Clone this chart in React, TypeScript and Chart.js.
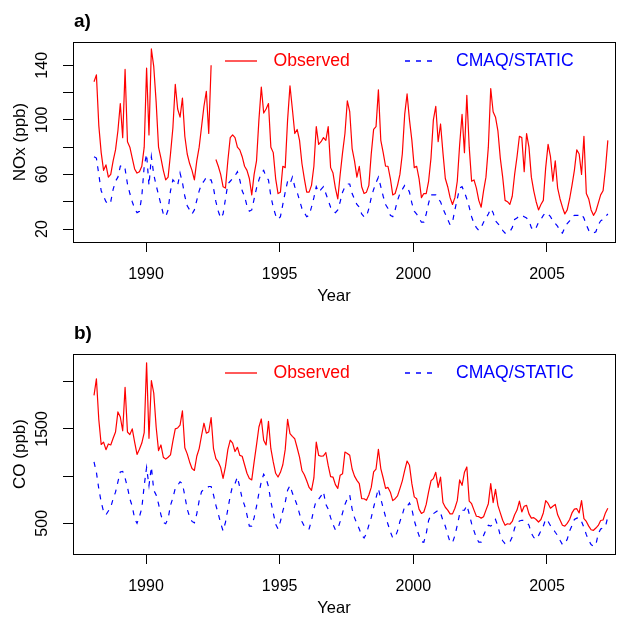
import React, { useEffect, useRef } from "react";
import { Chart, registerables } from "chart.js";

Chart.register(...registerables);

// ---- data (monthly series, as plotted) ----
const X_START = 1988.055; // position of first month on the year axis
const X_STEP = 0.0894; // spacing of monthly points on the year axis
const YEAR_TICKS = [1990, 1995, 2000, 2005];

const NOX_TICKS = [20, 40, 60, 80, 100, 120, 140];
const NOX_LABELS = [20, 60, 100, 140];
const CO_TICKS = [500, 1000, 1500, 2000];
const CO_LABELS = [500, 1500];

const NOX_OBS: (number | null)[] = [
  128, 133, 96, 76, 63, 67, 58, 60, 70, 78, 92, 112,
  87, 137, 84, 80, 72, 64, 61, 62, 66, 80, 138, 89,
  152, 139, 113, 80, 72, 63, 56, 58, 75, 94, 126, 108,
  102, 116, 88, 75, 68, 63, 56, 70, 80, 95, 110, 121,
  90, 140, null, 71, 66, 60, 51, 50, 70, 87, 89, 87,
  80, 78, 73, 66, 63, 57, 45, 60, 70, 100, 124, 105,
  108, 112, 80, 76, 57, 46, 47, 66, 65, 100, 125, 108,
  90, 93, 85, 68, 57, 47, 47, 52, 66, 95, 82, 84,
  87, 85, 95, 65, 61, 50, 42, 60, 76, 90, 114, 106,
  79, 70, 58, 66, 51, 46, 47, 52, 75, 93, 95, 122,
  85, 76, 66, 66, 57, 45, 46, 52, 60, 75, 104, 119,
  100, 85, 65, 66, 57, 43, 46, 46, 55, 72, 100, 110,
  84, 97, 76, 57, 51, 43, 38, 43, 55, 82, 104, 76,
  118, 80, 55, 56, 50, 41, 36, 48, 58, 80, 123, 106,
  102, 92, 72, 58, 41, 40, 38, 44, 60, 73, 88, 87,
  62, 90, 80, 58, 48, 40, 34, 38, 41, 65, 82, 73,
  55, 70, 50, 42, 36, 31, 34, 42, 52, 63, 78, 75,
  60, 88, 46, 42, 34, 30, 33, 39, 45, 48, 64, 85,
];

const NOX_CMAQ: number[] = [
  73, 72, 60, 48, 44, 40, 38, 40, 49, 55, 58, 66,
  67, 64, 53, 46, 40, 35, 32, 33, 44, 66, 75, 52,
  73, 60, 52, 45, 38, 31, 29, 34, 48, 56, 54, 52,
  61, 54, 44, 37, 34, 31, 34, 41, 48, 53, 55, 58,
  56, 56, 50, 40, 33, 28, 31, 42, 53, 55, 57, 59,
  62, 56, 48, 44, 37, 33, 34, 42, 50, 56, 61, 63,
  58, 56, 44, 36, 30, 27, 29, 38, 47, 55, 53, 58,
  51, 47, 41, 35, 32, 29, 30, 36, 43, 51, 47, 49,
  51, 46, 41, 36, 33, 32, 34, 40, 47, 51, 53, 53,
  46, 42, 38, 36, 31, 29, 29, 35, 43, 49, 54, 58,
  51, 44, 38, 35, 30, 29, 34, 41, 46, 49, 52, 51,
  47, 39, 33, 31, 28, 25, 25, 31, 39, 45, 45, 45,
  42, 40, 35, 31, 27, 23, 25, 34, 42, 50, 51, 47,
  42, 36, 29, 24, 21, 19, 21, 25, 28, 31, 35, 32,
  26, 24, 22, 19, 17, 17, 18, 21, 27, 28, 30, 30,
  29, 28, 26, 21, 19, 21, 25, 27, 30, 32, 31, 29,
  26, 24, 22, 18, 17, 21, 24, 26, 29, 30, 30, 30,
  31, 28, 23, 19, 17, 17, 18, 23, 26, 27, 29, 31,
];

const CO_OBS: number[] = [
  1855, 2030, 1600, 1335, 1360, 1280, 1340, 1330, 1400, 1467, 1680, 1626,
  1480, 1940, 1467, 1440, 1500, 1360, 1230, 1285, 1350, 1460, 2200, 1400,
  2010, 1880, 1520, 1270, 1330, 1200, 1180, 1200, 1225, 1370, 1500, 1510,
  1540, 1690, 1300, 1235, 1150, 1080, 1060, 1210, 1291, 1430, 1560, 1455,
  1467, 1620, 1290, 1185, 1150, 1090, 975, 1100, 1280, 1380, 1350, 1260,
  1305, 1220, 1210, 1120, 1030, 975, 960, 1150, 1330, 1520, 1605, 1380,
  1330, 1580, 1290, 1150, 1030, 990, 1040, 1120, 1280, 1600, 1450, 1420,
  1395, 1300, 1200, 1060, 1015, 950, 880, 850, 980, 1360, 1220, 1210,
  1215, 1250, 1110, 995, 990, 910, 870, 1010, 1026, 1255, 1240, 1220,
  1075, 1000, 955, 920, 761, 760, 744, 800, 880, 1044, 1075, 1284,
  1080, 980, 870, 880, 830, 740, 761, 790, 867, 950, 1060, 1160,
  1114, 920, 780, 761, 650, 605, 620, 700, 832, 950, 973, 1040,
  880, 990, 720, 670, 640, 600, 600, 660, 740, 960, 902, 1040,
  1097, 735, 708, 640, 575, 570, 555, 570, 640, 708, 920, 720,
  860, 690, 610, 532, 479, 495, 490, 520, 590, 640, 735, 620,
  680, 690, 600, 555, 560, 540, 514, 540, 610, 740, 710, 660,
  680, 700, 590, 535, 479, 470, 500, 540, 610, 650, 655, 610,
  740, 549, 520, 470, 432, 426, 450, 478, 530, 535, 610, 660,
];

const CO_CMAQ: number[] = [
  1150, 1040, 867, 725, 625, 590, 630, 670, 760, 830, 940, 1044,
  1050, 980, 880, 760, 680, 550, 500, 570, 660, 900, 1090, 900,
  1097, 850, 800, 705, 590, 510, 496, 549, 690, 770, 870, 900,
  940, 920, 790, 650, 570, 520, 505, 600, 740, 835, 860, 867,
  890, 890, 800, 690, 600, 500, 420, 510, 650, 790, 900, 920,
  990, 880, 760, 690, 590, 470, 470, 560, 680, 820, 940, 1020,
  975, 890, 730, 610, 490, 440, 520, 630, 720, 850, 900, 820,
  760, 690, 600, 520, 470, 440, 440, 530, 650, 745, 755, 790,
  835, 700, 650, 560, 490, 430, 440, 520, 610, 700, 760, 800,
  650, 560, 495, 440, 373, 345, 390, 480, 560, 670, 770, 867,
  760, 660, 570, 490, 410, 345, 355, 420, 520, 590, 680, 680,
  715, 650, 530, 445, 370, 305, 300, 390, 530, 590, 602, 620,
  638, 610, 530, 470, 380, 300, 295, 370, 480, 600, 638, 640,
  690, 600, 496, 420, 345, 300, 300, 370, 430, 479, 470, 496,
  540, 470, 370, 315, 285, 280, 300, 355, 450, 500, 525, 532,
  530, 514, 480, 395, 350, 330, 370, 420, 470, 545, 520, 475,
  445, 405, 370, 320, 275, 280, 330, 420, 475, 540, 555, 560,
  520, 455, 380, 320, 275, 255, 275, 390, 440, 450, 465, 570,
];

const FONT = "'Liberation Sans', Arial, Helvetica, sans-serif";
const W = 618;

type Panel = {
  height: number;
  padTop: number;
  xAxisHeight: number;
  yMin: number;
  yMax: number;
  yTicks: number[];
  yLabels: number[];
  obs: (number | null)[];
  cmaq: number[];
  letter: string;
  yTitle: string;
};

const toPoints = (arr: (number | null)[]) =>
  arr.map((v, i) => ({ x: X_START + i * X_STEP, y: v }));

function buildChart(canvas: HTMLCanvasElement, p: Panel) {
  const overlay = {
    id: "overlay",
    afterDraw(chart: any) {
      const ctx = chart.ctx as CanvasRenderingContext2D;
      const ca = chart.chartArea;
      const ys = chart.scales.y;
      ctx.save();
      // frame
      ctx.strokeStyle = "#000";
      ctx.lineWidth = 1;
      ctx.strokeRect(ca.left + 0.5, ca.top + 0.5, ca.right - ca.left, ca.bottom - ca.top);
      ctx.fillStyle = "#000";
      // y tick labels (rotated)
      ctx.font = `16px ${FONT}`;
      ctx.textAlign = "center";
      ctx.textBaseline = "middle";
      for (const v of p.yLabels) {
        const y = ys.getPixelForValue(v);
        ctx.save();
        ctx.translate(43, y);
        ctx.rotate(-Math.PI / 2);
        ctx.fillText(String(v), 0, 0);
        ctx.restore();
      }
      // y title
      ctx.save();
      ctx.font = `17px ${FONT}`;
      ctx.translate(20, (ca.top + ca.bottom) / 2);
      ctx.rotate(-Math.PI / 2);
      ctx.fillText(p.yTitle, 0, 0);
      ctx.restore();
      // x title
      ctx.font = `16.5px ${FONT}`;
      ctx.fillText("Year", 334, ca.bottom + 54);
      // panel letter
      ctx.font = `bold 19px ${FONT}`;
      ctx.textAlign = "left";
      ctx.fillText(p.letter, 74, ca.top - 20);
      // legend
      const ly = ca.top + 19;
      ctx.lineWidth = 1.3;
      ctx.strokeStyle = "#ff0000";
      ctx.beginPath();
      ctx.moveTo(225, ly);
      ctx.lineTo(257, ly);
      ctx.stroke();
      ctx.strokeStyle = "#0000ff";
      ctx.setLineDash([5, 6]);
      ctx.beginPath();
      ctx.moveTo(405, ly);
      ctx.lineTo(437, ly);
      ctx.stroke();
      ctx.setLineDash([]);
      ctx.font = `17.6px ${FONT}`;
      ctx.textAlign = "left";
      ctx.fillStyle = "#ff0000";
      ctx.fillText("Observed", 273.5, ly);
      ctx.fillStyle = "#0000ff";
      ctx.fillText("CMAQ/STATIC", 456, ly);
      ctx.restore();
    },
  };

  return new Chart(canvas, {
    type: "line",
    data: {
      datasets: [
        {
          label: "Observed",
          data: toPoints(p.obs) as any,
          borderColor: "#ff0000",
          borderWidth: 1.2,
          pointRadius: 0,
          tension: 0,
          spanGaps: false,
          borderJoinStyle: "round",
        },
        {
          label: "CMAQ/STATIC",
          data: toPoints(p.cmaq) as any,
          borderColor: "#0000ff",
          borderWidth: 1.2,
          borderDash: [5, 6],
          pointRadius: 0,
          tension: 0,
        },
      ],
    },
    options: {
      responsive: false,
      maintainAspectRatio: false,
      animation: false,
      events: [],
      layout: { padding: { top: p.padTop, right: W - 615, left: 0, bottom: 0 } },
      plugins: { legend: { display: false }, tooltip: { enabled: false } },
      scales: {
        x: {
          type: "linear",
          min: 1987.269,
          max: 2007.544,
          afterBuildTicks: (s: any) => {
            s.ticks = YEAR_TICKS.map((v) => ({ value: v }));
          },
          afterFit: (s: any) => {
            s.height = p.xAxisHeight;
          },
          ticks: {
            font: { family: FONT, size: 16 },
            color: "#000",
            padding: 13,
            maxRotation: 0,
            autoSkip: false,
            callback: (v: any) => String(v),
          },
          grid: {
            drawOnChartArea: false,
            drawTicks: true,
            tickLength: 10,
            color: "#000",
            lineWidth: 1,
          },
          border: { display: true, color: "#000", width: 1 },
        },
        y: {
          type: "linear",
          min: p.yMin,
          max: p.yMax,
          afterBuildTicks: (s: any) => {
            s.ticks = p.yTicks.map((v) => ({ value: v }));
          },
          afterFit: (s: any) => {
            s.width = 73;
          },
          ticks: { display: false },
          grid: {
            drawOnChartArea: false,
            drawTicks: true,
            tickLength: 10,
            color: "#000",
            lineWidth: 1,
          },
          border: { display: true, color: "#000", width: 1 },
        },
      },
    },
    plugins: [overlay],
  } as any);
}

const PANEL_A: Panel = {
  height: 310,
  padTop: 42,
  xAxisHeight: 310 - 242,
  yMin: 10.47,
  yMax: 157.1,
  yTicks: NOX_TICKS,
  yLabels: NOX_LABELS,
  obs: NOX_OBS,
  cmaq: NOX_CMAQ,
  letter: "a)",
  yTitle: "NOx (ppb)",
};

const PANEL_B: Panel = {
  height: 307,
  padTop: 44,
  xAxisHeight: 307 - 244,
  yMin: 175,
  yMax: 2293,
  yTicks: CO_TICKS,
  yLabels: CO_LABELS,
  obs: CO_OBS,
  cmaq: CO_CMAQ,
  letter: "b)",
  yTitle: "CO (ppb)",
};

export default function App() {
  const refA = useRef<HTMLCanvasElement | null>(null);
  const refB = useRef<HTMLCanvasElement | null>(null);

  useEffect(() => {
    const a = buildChart(refA.current!, PANEL_A);
    const b = buildChart(refB.current!, PANEL_B);
    return () => {
      a.destroy();
      b.destroy();
    };
  }, []);

  return (
    <div
      style={{
        position: "absolute",
        left: 0,
        top: 0,
        width: W,
        height: 617,
        background: "#fff",
        overflow: "hidden",
      }}
    >
      <canvas
        ref={refA}
        width={W}
        height={PANEL_A.height}
        style={{ position: "absolute", left: 0, top: 0, width: W, height: PANEL_A.height }}
      />
      <canvas
        ref={refB}
        width={W}
        height={PANEL_B.height}
        style={{ position: "absolute", left: 0, top: 310, width: W, height: PANEL_B.height }}
      />
    </div>
  );
}
